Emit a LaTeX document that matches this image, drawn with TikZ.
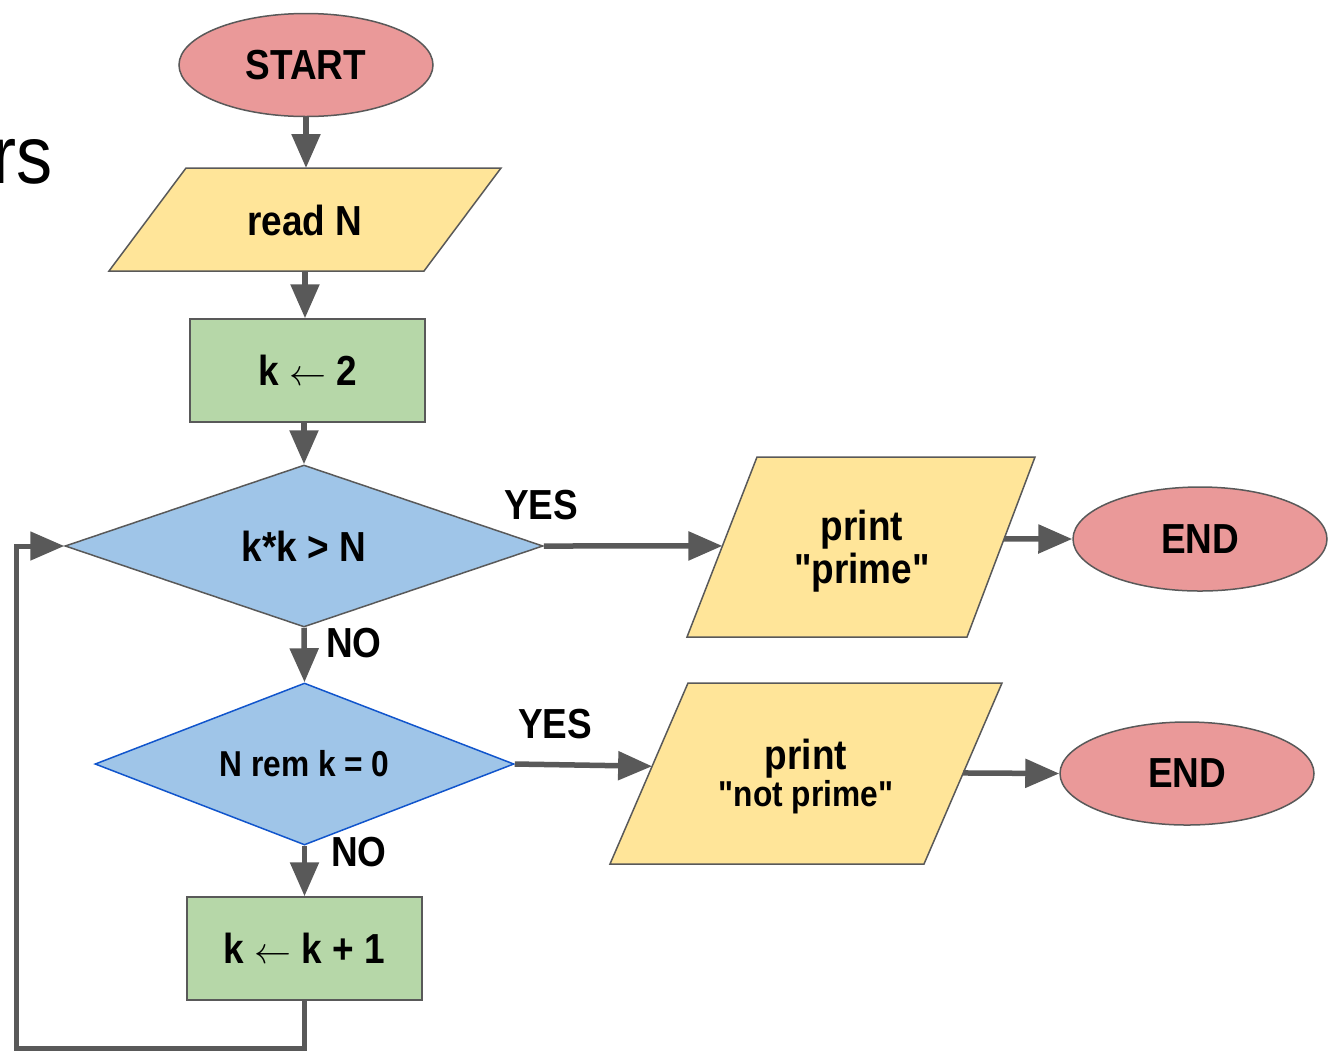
\documentclass[tikz,border=0pt]{standalone}
\usepackage{graphicx}
\usepackage{fontspec}
\setmainfont{Liberation Sans}[FakeStretch=0.88]
\newfontfamily\plainquotefont{Liberation Sans}[FakeStretch=0.88]
\usetikzlibrary{shapes.geometric,arrows.meta,calc,backgrounds}
\definecolor{termred}{HTML}{EA9999}
\definecolor{ioyellow}{HTML}{FFE599}
\definecolor{procgreen}{HTML}{B6D7A8}
\definecolor{decblue}{HTML}{9FC5E8}
\definecolor{edgegray}{HTML}{595959}
\definecolor{blueedge}{HTML}{1155CC}
\newcommand{\asgn}{{\fontsize{10}{12}\selectfont\scalebox{3.7}{$\leftarrow$}}}
\newcommand{\dq}{{\plainquotefont\bfseries\symbol{34}}}
\tikzset{
  base/.style={inner sep=0pt, font=\bfseries\fontsize{42}{43}\selectfont, text=black},
  term/.style={base, ellipse, draw=edgegray, line width=1.5pt, fill=termred, minimum width=254pt, minimum height=103pt},
  proc/.style={base, rectangle, draw=edgegray, line width=1.5pt, fill=procgreen, minimum width=235pt, minimum height=103pt},
  dec/.style={base, diamond, draw=edgegray, line width=1.5pt, fill=decblue},
  iobox/.style={rectangle, inner sep=0pt, outer sep=0pt},
  io/.style={draw=edgegray, line width=1.5pt, fill=ioyellow, line join=miter},
  arr/.style={draw=edgegray, line width=5.5pt, -{Triangle[length=34pt,width=28pt]}},
  looparr/.style={draw=edgegray, line width=5pt, line join=miter, -{Triangle[length=34pt,width=28pt]}},
  lbl/.style={base}
}
\begin{document}
\begin{tikzpicture}[x=1pt,y=-1pt]
\useasboundingbox (0,0) rectangle (1337,1053);

% cut-off title fragment
\node[anchor=base east, inner sep=0pt, font=\fontsize{82}{90}\selectfont] (title) at (53,183) {rs};

% terminals and processes
\node[term] (start) at (306,65) {START};
\node[proc] (k2) at (307.5,370.5) {k \asgn{} 2};
\node[dec, aspect=2.95, minimum width=478pt, minimum height=162pt] (d1) at (304,546) {k*k > N};
\node[dec, draw=blueedge, aspect=2.59, minimum width=419pt, minimum height=162pt,
      font=\bfseries\fontsize{36}{40}\selectfont] (d2) at (304.5,764) {N rem k = 0};
\node[proc] (k1) at (304.5,948.5) {k \asgn{} k + 1};
\node[term, minimum height=104pt] (end1) at (1200,539) {END};
\node[term] (end2) at (1187,773.5) {END};

% input/output boxes (parallelograms)
\node[iobox, minimum width=392pt, minimum height=103pt] (read) at (305,219.5) {};
\node[iobox, minimum width=348pt, minimum height=180pt] (p1) at (861,547) {};
\node[iobox, minimum width=392pt, minimum height=181pt] (p2) at (806,773.5) {};
\begin{scope}[on background layer]
  \draw[io] ([xshift=77pt]read.north west) -- (read.north east) -- ([xshift=-77pt]read.south east) -- (read.south west) -- cycle;
  \draw[io] ([xshift=70pt]p1.north west) -- (p1.north east) -- ([xshift=-68pt]p1.south east) -- (p1.south west) -- cycle;
  \draw[io] ([xshift=78pt]p2.north west) -- (p2.north east) -- ([xshift=-78pt]p2.south east) -- (p2.south west) -- cycle;
\end{scope}
\node[base] (readt) at (305,220) {read N};
\node[base, align=center] (p1t) at (862,551) {print\\\dq prime\dq};
\node[base, align=center] (p2t) at (806,777) {print\\[-6pt]{\fontsize{36}{40}\selectfont\dq not prime\dq}};

% edge points on the parallelograms
\coordinate (p1in)  at ($(p1.south west)!0.506!([xshift=70pt]p1.north west)$);
\coordinate (p1out) at ($([xshift=-68pt]p1.south east)!0.545!(p1.north east)$);
\coordinate (p2in)  at ($(p2.south west)!0.54!([xshift=78pt]p2.north west)$);
\coordinate (p2out) at ($([xshift=-78pt]p2.south east)!0.503!(p2.north east)$);
\coordinate (loopc) at (16,1048);

% connectors
\draw[arr] (start.south) -- (start.south |- read.north);
\draw[arr] (read.south) -- (read.south |- k2.north);
\draw[arr] (d1.north |- k2.south) -- (d1.north);
\draw[arr] (d1.south) -- (d2.north);
\draw[arr] (d2.south) -- (d2.south |- k1.north);
\draw[looparr] (k1.south) |- (loopc) |- (d1.west);
\draw[arr] (d1.east) -- (p1in);
\draw[arr] (p1out) -- (end1.west);
\draw[arr] (d2.east) -- (p2in);
\draw[arr] (p2out) -- (end2.west);

% branch labels
\node[lbl] (yes1) at (541,505) {YES};
\node[lbl] (no1) at (354,643) {NO};
\node[lbl] (yes2) at (555,724) {YES};
\node[lbl] (no2) at (359,852) {NO};
\end{tikzpicture}
\end{document}
